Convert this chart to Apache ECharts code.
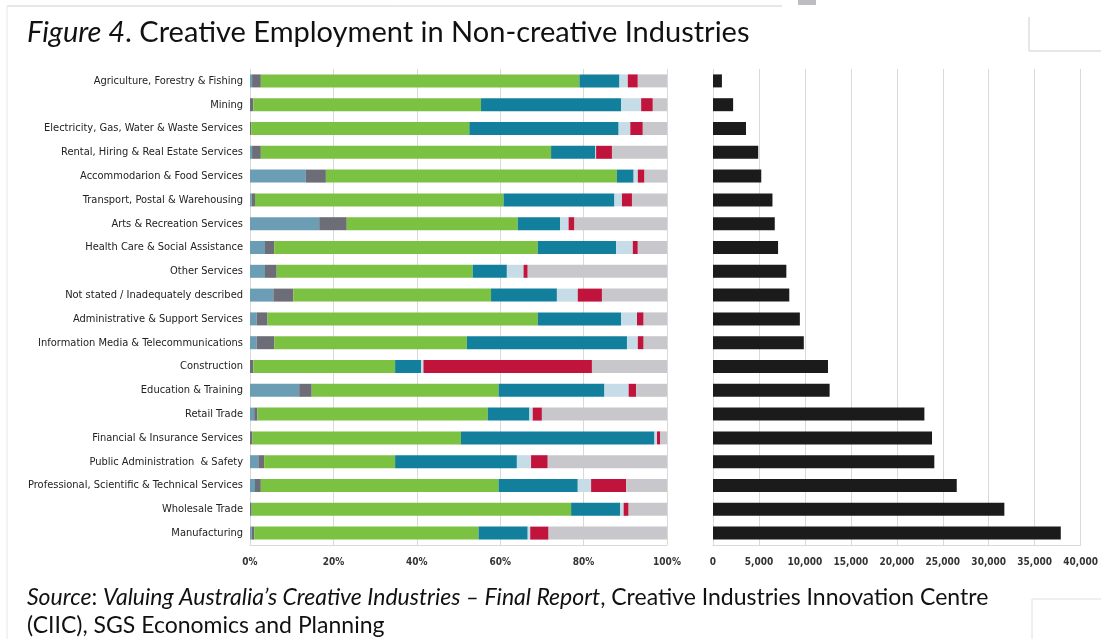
<!DOCTYPE html>
<html>
<head>
<meta charset="utf-8">
<title>Creative Employment in Non-creative Industries</title>
<script src="https://cdn.jsdelivr.net/npm/echarts@6/dist/echarts.min.js"></script>
<style>
  html, body { margin: 0; padding: 0; background: #fff; }
  #chart { width: 1101px; height: 639px; }
</style>
</head>
<body>
<div id="chart"></div>
<script>
// industries, top to bottom
const industries = [
  'Agriculture, Forestry & Fishing',
  'Mining',
  'Electricity, Gas, Water & Waste Services',
  'Rental, Hiring & Real Estate Services',
  'Accommodarion & Food Services',
  'Transport, Postal & Warehousing',
  'Arts & Recreation Services',
  'Health Care & Social Assistance',
  'Other Services',
  'Not stated / Inadequately described',
  'Administrative & Support Services',
  'Information Media & Telecommunications',
  'Construction',
  'Education & Training',
  'Retail Trade',
  'Financial & Insurance Services',
  'Public Administration  & Safety',
  'Professional, Scientific & Technical Services',
  'Wholesale Trade',
  'Manufacturing'
]

// share of creative employment by occupation segment (%)
const segSteel = [0.5, 0, 0, 0.5, 13.4, 0.4, 16.6, 3.6, 3.6, 5.6, 1.6, 1.6, 0, 11.8, 1.0, 0, 2.0, 1.2, 0, 0.4]
const segGrey = [2.1, 0.8, 0.3, 2.1, 4.8, 0.8, 6.6, 2.2, 2.8, 4.8, 2.6, 4.2, 0.8, 3.0, 0.8, 0.6, 1.4, 1.4, 0.4, 0.6]
const segGreen = [76.4, 54.6, 52.3, 69.6, 69.8, 59.6, 41.0, 63.2, 47.0, 47.4, 64.8, 46.2, 34.0, 44.8, 55.2, 50.0, 31.4, 57.0, 76.6, 53.8]
const segTeal = [9.6, 33.6, 35.8, 10.6, 4.0, 26.6, 10.2, 18.8, 8.2, 15.8, 20.0, 38.4, 6.2, 25.4, 10.0, 46.4, 29.2, 19.0, 11.8, 11.8]
const segPale = [2.0, 4.8, 2.8, 0.2, 1.0, 1.8, 2.0, 4.0, 4.0, 5.0, 3.8, 2.6, 0.6, 5.8, 0.8, 0.6, 3.4, 3.2, 0.8, 0.6]
const segRed = [2.4, 2.8, 3.0, 3.8, 1.6, 2.4, 1.4, 1.2, 1.0, 5.8, 1.6, 1.4, 40.4, 1.8, 2.2, 0.8, 4.0, 8.4, 1.2, 4.4]
const segLight = [7.0, 3.4, 5.8, 13.2, 5.4, 8.4, 22.2, 7.0, 33.4, 15.6, 5.6, 5.6, 18.0, 7.4, 30.0, 1.6, 28.6, 9.8, 9.2, 28.4]

// total creative employment (persons)
const totals = [970, 2190, 3590, 4920, 5250, 6470, 6720, 7080, 7980, 8300, 9450, 9880, 12510, 12690, 23000, 23830, 24080, 26520, 31700, 37840]

const pctTicks = [0, 20, 40, 60, 80, 100]

const chart = echarts.init(document.getElementById('chart'))

const narrow = "'Liberation Sans Narrow', 'DejaVu Sans Condensed', sans-serif"
const gridColor = '#d9d9d9'

const segments = [
  { name: 'seg1', data: segSteel, color: '#6b9db4' },
  { name: 'seg2', data: segGrey, color: '#6d6d77' },
  { name: 'seg3', data: segGreen, color: '#7cc242' },
  { name: 'seg4', data: segTeal, color: '#12809d' },
  { name: 'seg5', data: segPale, color: '#c6dce6' },
  { name: 'seg6', data: segRed, color: '#c0143c' },
  { name: 'seg7', data: segLight, color: '#c8c8cc' }
]

const option = {
  animation: false,
  title: [
    {
      left: 22,
      top: 13,
      text: '{i|Figure 4}{n|. Creative Employment in Non-creative Industries}',
      textStyle: {
        fontWeight: 'normal',
        rich: {
          i: { fontFamily: 'Lato', fontStyle: 'italic', fontWeight: 'normal', fontSize: 29, color: '#111' },
          n: { fontFamily: 'Lato', fontWeight: 'normal', fontSize: 29, color: '#111' }
        }
      }
    },
    {
      left: 22,
      top: 579,
      text: '{i|Source}{n|: }{i|Valuing Australia\u2019s Creative Industries \u2013 Final Report}{n|, Creative Industries Innovation Centre}\n{n|(CIIC), SGS Economics and Planning}',
      textStyle: {
        fontWeight: 'normal',
        rich: {
          i: { fontFamily: 'Lato', fontStyle: 'italic', fontWeight: 'normal', fontSize: 23, color: '#111', lineHeight: 28 },
          n: { fontFamily: 'Lato', fontWeight: 'normal', fontSize: 23, color: '#111', lineHeight: 28 }
        }
      }
    }
  ],
  grid: [
    { left: 250, right: 434, top: 69, bottom: 94 },
    { left: 713, right: 18, top: 69, bottom: 94 }
  ],
  xAxis: [
    {
      gridIndex: 0,
      type: 'value',
      min: pctTicks[0],
      max: pctTicks[pctTicks.length - 1],
      interval: 20,
      axisLine: { show: true, lineStyle: { color: gridColor } },
      axisTick: { show: false },
      splitLine: { show: true, lineStyle: { color: gridColor } },
      axisLabel: {
        formatter: '{value}%',
        fontFamily: narrow,
        fontWeight: 'bold',
        fontSize: 10,
        color: '#333',
        margin: 12
      }
    },
    {
      gridIndex: 1,
      type: 'value',
      min: 0,
      max: 40000,
      interval: 5000,
      axisLine: { show: true, lineStyle: { color: gridColor } },
      axisTick: { show: false },
      splitLine: { show: true, lineStyle: { color: gridColor } },
      axisLabel: {
        formatter: v => v.toLocaleString('en-US'),
        fontFamily: narrow,
        fontWeight: 'bold',
        fontSize: 10,
        color: '#333',
        margin: 12
      }
    }
  ],
  yAxis: [
    {
      gridIndex: 0,
      type: 'category',
      data: industries,
      inverse: true,
      axisLine: { show: false },
      axisTick: { show: false },
      axisLabel: {
        fontFamily: narrow,
        fontSize: 11,
        color: '#222',
        margin: 7
      }
    },
    {
      gridIndex: 1,
      type: 'category',
      data: industries,
      inverse: true,
      axisLine: { show: false },
      axisTick: { show: false },
      axisLabel: { show: false }
    }
  ],
  series: [
    ...segments.map(s => ({
      name: s.name,
      type: 'bar',
      stack: 'share',
      xAxisIndex: 0,
      yAxisIndex: 0,
      barWidth: 13,
      data: s.data,
      itemStyle: { color: s.color }
    })),
    {
      name: 'Total',
      type: 'bar',
      xAxisIndex: 1,
      yAxisIndex: 1,
      barWidth: 13,
      data: totals,
      itemStyle: { color: '#1b1b1b' }
    }
  ],
  graphic: [
    // scan frame remnants
    { type: 'line', shape: { x1: 7, y1: 6, x2: 782, y2: 6 }, style: { stroke: '#cfcfcf', lineWidth: 1 } },
    { type: 'line', shape: { x1: 7, y1: 6, x2: 7, y2: 639 }, style: { stroke: '#e6e6e6', lineWidth: 1 } },
    { type: 'rect', shape: { x: 798, y: 0, width: 18, height: 5 }, style: { fill: '#bdbdc2' } },
    { type: 'line', shape: { x1: 1029, y1: 17, x2: 1029, y2: 51 }, style: { stroke: '#cfcfcf', lineWidth: 1 } },
    { type: 'line', shape: { x1: 1029, y1: 51, x2: 1101, y2: 51 }, style: { stroke: '#cfcfcf', lineWidth: 1 } },
    { type: 'line', shape: { x1: 1032, y1: 599, x2: 1101, y2: 599 }, style: { stroke: '#e0e0e0', lineWidth: 1 } },
    { type: 'line', shape: { x1: 1032, y1: 599, x2: 1032, y2: 639 }, style: { stroke: '#e0e0e0', lineWidth: 1 } }
  ]
}

chart.setOption(option)
</script>
</body>
</html>
